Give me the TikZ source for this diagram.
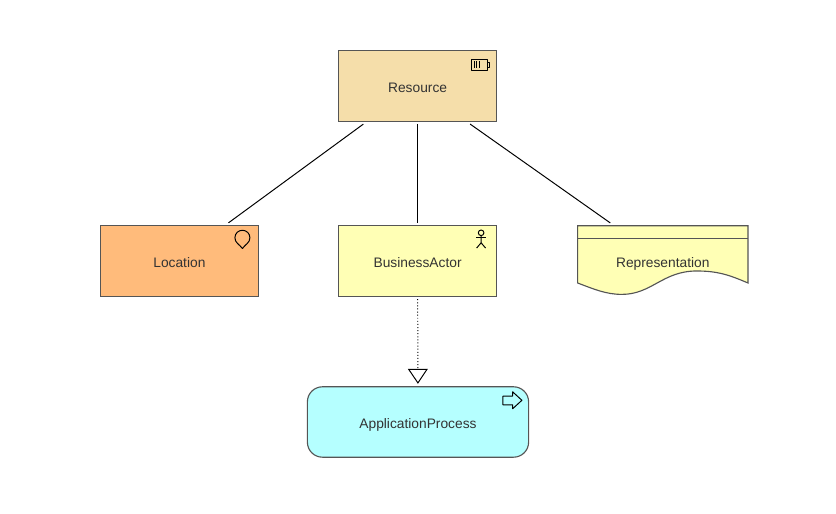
\documentclass[tikz,border=0pt]{standalone}
\usepackage{fontspec}
\setmainfont{Liberation Sans}
\usetikzlibrary{arrows.meta}
\definecolor{edgegray}{HTML}{555555}
\definecolor{textgray}{HTML}{333333}
\definecolor{resourcefill}{HTML}{F5DEAA}
\definecolor{locationfill}{HTML}{FFBB7B}
\definecolor{actorfill}{HTML}{FFFFB5}
\definecolor{processfill}{HTML}{B5FFFF}
\begin{document}
\begin{tikzpicture}[inner sep=0pt,outer sep=0pt,line width=0.7pt,
labeltext/.style={text=textgray,font=\fontsize{9.8}{11}\selectfont,text height=9.6pt,text depth=0pt},
archiblock/.style={draw=edgegray,line width=0.8pt,rectangle,minimum width=3.95cm,minimum height=1.76cm,labeltext},
assoc/.style={shorten <=#1,shorten >=#1},
assoc/.default=0.07cm,
realizes/.style={dash pattern=on 0.7pt off 1.5pt,shorten <=0.075cm,shorten >=0.075cm,-{Triangle[open,fill=white,length=0.375cm,width=0.5cm,line width=0.7pt]}},
icon/.style={x=0.025cm,y=-0.025cm,line join=round}]
\useasboundingbox (0,0) rectangle (20.9,12.85);

\draw (10.44,10.7) node[archiblock,fill=resourcefill] (Resource) {Resource};
\draw (4.485,6.325) node[archiblock,fill=locationfill] (Location) {Location};
\draw (10.44,6.325) node[archiblock,fill=actorfill] (Actor) {BusinessActor};
\draw (16.57,6.325) node[archiblock,draw=none,minimum width=4.26cm] (Repr) {};
\draw (10.45,2.3) node[archiblock,fill=processfill,rounded corners=0.375cm,minimum width=5.53cm] (Process) {ApplicationProcess};

% representation outline, wavy at the bottom
\draw[draw=edgegray,line width=0.8pt,fill=actorfill] (Repr.north west) -- (Repr.north east) -- ++(0,-1.43)
  .. controls +(-0.45,0.19) and +(0.55,0) .. ++(-1.285,0.3)
  .. controls +(-0.85,0) and +(0.75,0) .. ++(-1.87,-0.585)
  .. controls +(-0.4,0) and +(0.4,-0.15) .. ++(-1.105,0.285) -- cycle;
\draw[edgegray,line width=0.8pt] (Repr.north west) ++(0,-0.325) -- ++(4.26,0);
\node[labeltext] (ReprText) at (Repr.center) {Representation};

\draw[assoc=0.125cm] (Resource.215.8) -- (Location.38);
\draw[assoc] (Resource) -- (Actor);
\draw[assoc=0.125cm] (Resource.324) -- (Repr.144.5);
\draw[realizes] (Actor) -- (Process);

% battery
\begin{scope}[shift={(Resource.north east)},icon]
\draw (-25.5,8.5) rectangle (-9.5,19.5);
\draw (-9.5,11.5) rectangle (-7,16.5);
\foreach \barx in {-22.3,-20,-17.5} {
  \draw (\barx,10.5) -- (\barx,17.5);
}
\end{scope}

% pin
\begin{scope}[shift={(Location.north east)},icon]
\draw (-16,22.7) .. controls (-19,18.5) and (-23.5,17) .. (-23.5,12)
  .. controls (-23.5,7.5) and (-20,4.5) .. (-16,4.5)
  .. controls (-12,4.5) and (-8.5,7.5) .. (-8.5,12)
  .. controls (-8.5,17) and (-13,18.5) .. (-16,22.7) -- cycle;
\end{scope}

% stick figure
\begin{scope}[shift={(Actor.north east)},icon]
\draw (-15.5,7) circle[radius=0.07cm];
\draw (-15.5,9.8) -- (-15.5,17) -- (-20,22.3);
\draw (-15.5,17) -- (-11,22.3);
\draw (-20.5,12) -- (-10.5,12);
\end{scope}

% process arrow
\begin{scope}[shift={(Process.north east)},icon]
\draw (-25.7,9.3) -- (-16,9.3) -- (-16,5) -- (-6.7,13.5) -- (-16,22) -- (-16,18) -- (-25.7,18) -- cycle;
\end{scope}
\end{tikzpicture}
\end{document}
